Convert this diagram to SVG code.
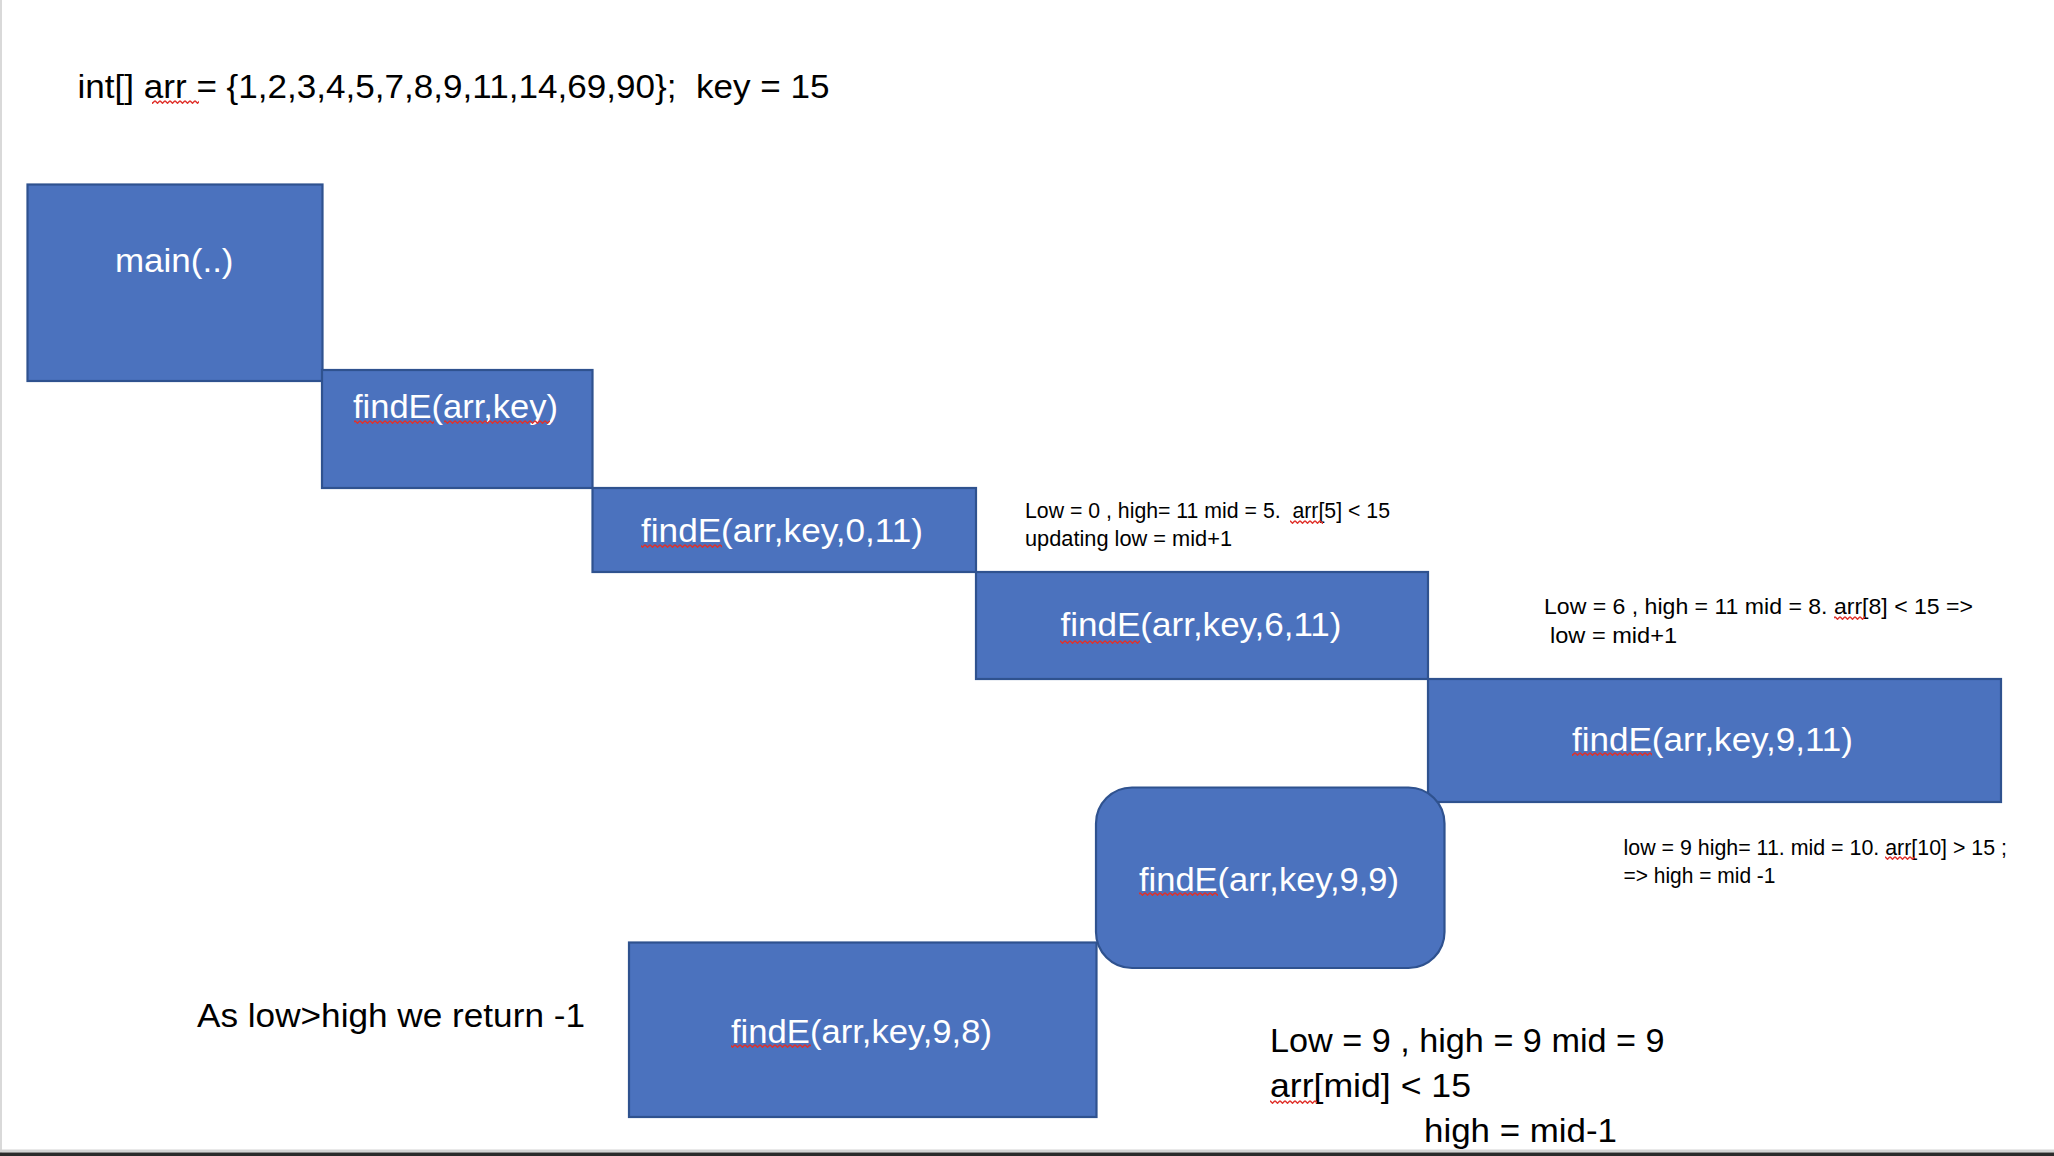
<svg xmlns="http://www.w3.org/2000/svg" width="2054" height="1156" viewBox="0 0 2054 1156">
<style>
.box{fill:#4B72BE;stroke:#2F528F;stroke-width:2.2}
.lbl{font-family:"Liberation Sans",Arial,sans-serif;font-size:34px;fill:#ffffff;white-space:pre}
.big{font-family:"Liberation Sans",Arial,sans-serif;font-size:34px;fill:#000000;white-space:pre}
.small{font-family:"Liberation Sans",Arial,sans-serif;font-size:21.5px;fill:#000000;white-space:pre}
.sq{fill:url(#sq)}
</style>
<defs>
<pattern id="sq" width="5" height="4" patternUnits="userSpaceOnUse">
<path d="M0 0.8 L2.5 3.2 L5 0.8" fill="none" stroke="#e0302a" stroke-width="1.5"/>
</pattern>
</defs>
<rect x="0" y="0" width="2054" height="1156" fill="#ffffff"/>
<rect x="0" y="0" width="2" height="1156" fill="#d9d9d9"/>
<rect x="0" y="1149.5" width="2054" height="3" fill="#d4d4d4"/>
<rect x="0" y="1152.5" width="2054" height="3.5" fill="#2b2b2b"/>

<g id="title">
<text class="big" x="77.5" y="98" textLength="752" lengthAdjust="spacingAndGlyphs">int[] arr = {1,2,3,4,5,7,8,9,11,14,69,90};  key = 15</text>
<rect class="sq" x="152" y="100" width="47" height="4"/>
</g>

<g id="connectors"></g>

<g id="node-main">
<rect class="box" x="27.5" y="184.5" width="295" height="196.5"/>
<text class="lbl" x="115" y="272" textLength="118.5" lengthAdjust="spacingAndGlyphs">main(..)</text>
</g>

<g id="node-findE-arr-key">
<rect class="box" x="322" y="370" width="270.5" height="118"/>
<text class="lbl" x="353" y="418" textLength="205" lengthAdjust="spacingAndGlyphs">findE(arr,key)</text>
<rect class="sq" x="354" y="420" width="80" height="4"/>
<rect class="sq" x="444" y="420" width="106" height="4"/>
</g>

<g id="node-findE-0-11">
<rect class="box" x="592.5" y="488" width="383.5" height="84"/>
<text class="lbl" x="641" y="542" textLength="282" lengthAdjust="spacingAndGlyphs">findE(arr,key,0,11)</text>
<rect class="sq" x="641" y="544" width="81" height="4"/>
</g>

<g id="node-findE-6-11">
<rect class="box" x="976" y="572" width="452" height="107"/>
<text class="lbl" x="1060.5" y="636" textLength="281" lengthAdjust="spacingAndGlyphs">findE(arr,key,6,11)</text>
<rect class="sq" x="1060" y="640" width="80" height="4"/>
</g>

<g id="node-findE-9-11">
<rect class="box" x="1428" y="679" width="573" height="123"/>
<text class="lbl" x="1572" y="751" textLength="281" lengthAdjust="spacingAndGlyphs">findE(arr,key,9,11)</text>
<rect class="sq" x="1572" y="752" width="80" height="4"/>
</g>

<g id="node-findE-9-9">
<rect class="box" x="1096" y="787.5" width="348.5" height="180.5" rx="36" ry="36"/>
<text class="lbl" x="1139" y="891" textLength="260" lengthAdjust="spacingAndGlyphs">findE(arr,key,9,9)</text>
<rect class="sq" x="1139" y="892" width="79" height="4"/>
</g>

<g id="node-findE-9-8">
<rect class="box" x="629" y="942.5" width="467.5" height="174.5"/>
<text class="lbl" x="731" y="1043" textLength="261" lengthAdjust="spacingAndGlyphs">findE(arr,key,9,8)</text>
<rect class="sq" x="731" y="1044" width="80" height="4"/>
</g>

<g id="note-1">
<text class="small" x="1025" y="518" textLength="365" lengthAdjust="spacingAndGlyphs">Low = 0 , high= 11 mid = 5.  arr[5] &lt; 15</text>
<text class="small" x="1025" y="546" textLength="207" lengthAdjust="spacingAndGlyphs">updating low = mid+1</text>
<rect class="sq" x="1290" y="520" width="33" height="4"/>
</g>

<g id="note-2">
<text class="small" x="1544" y="614" textLength="429" lengthAdjust="spacingAndGlyphs">Low = 6 , high = 11 mid = 8. arr[8] &lt; 15 =&gt;</text>
<text class="small" x="1550" y="643" textLength="127" lengthAdjust="spacingAndGlyphs">low = mid+1</text>
<rect class="sq" x="1834" y="616" width="31" height="4"/>
</g>

<g id="note-3">
<text class="small" x="1623.5" y="855" textLength="383.5" lengthAdjust="spacingAndGlyphs">low = 9 high= 11. mid = 10. arr[10] &gt; 15 ;</text>
<text class="small" x="1623.5" y="883" textLength="152" lengthAdjust="spacingAndGlyphs">=&gt; high = mid -1</text>
<rect class="sq" x="1885" y="856" width="30" height="4"/>
</g>

<g id="note-4">
<text class="big" x="1270" y="1052" textLength="394.5" lengthAdjust="spacingAndGlyphs">Low = 9 , high = 9 mid = 9</text>
<text class="big" x="1270" y="1097" textLength="201" lengthAdjust="spacingAndGlyphs">arr[mid] &lt; 15</text>
<text class="big" x="1424" y="1142" textLength="193" lengthAdjust="spacingAndGlyphs">high = mid-1</text>
<rect class="sq" x="1270" y="1100" width="47" height="4"/>
</g>

<g id="note-5">
<text class="big" x="197" y="1027" textLength="388" lengthAdjust="spacingAndGlyphs">As low&gt;high we return -1</text>
</g>
</svg>
